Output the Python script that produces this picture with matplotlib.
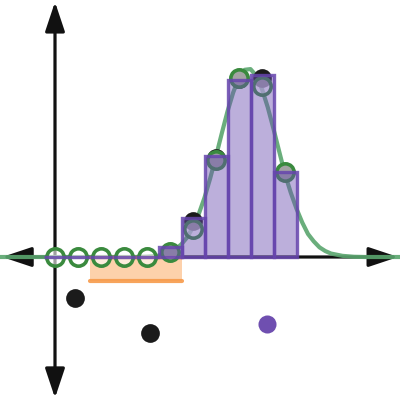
import matplotlib
matplotlib.use("Agg")
import matplotlib.pyplot as plt
from matplotlib.patches import Rectangle

# ---- data ----
bar_x = [0, 1, 2, 3, 4, 5, 6, 7, 8, 9, 10]
bar_heights = [0, 0, 0, 0, 0, 0.45, 1.7, 4.4, 7.7, 7.9, 3.7]

circle_x = [0, 1, 2, 3, 4, 5, 6, 7, 8, 9, 10]
circle_y = [0, 0, 0, 0, 0, 0.2, 1.2, 4.2, 7.8, 7.45, 3.7]

dot_x = [5, 6, 7, 8, 9, 10, 0.87, 4.13]
dot_y = [0.2, 1.57, 4.3, 7.75, 7.8, 3.7, -1.78, -3.3]

purple_pt_x = [9.2]
purple_pt_y = [-2.9]

rect_x0, rect_x1 = 1.5, 5.5
rect_y0, rect_y1 = -1.05, 0.0

curve_x = [-2.4, 3.5, 4.0, 4.5, 5.0, 5.25, 5.5, 5.75, 6.0, 6.25, 6.5, 6.75,
           7.0, 7.25, 7.5, 7.75, 8.0, 8.25, 8.5, 8.75, 9.0, 9.25, 9.5, 9.75,
           10.0, 10.25, 10.5, 10.75, 11.0, 11.25, 11.5, 11.75, 12.0, 12.5,
           13.0, 13.5, 15.0]
curve_y = [0.0, 0.0, 0.02, 0.06, 0.2, 0.34, 0.56, 0.86, 1.3, 1.87, 2.58, 3.43,
           4.38, 5.37, 6.33, 7.16, 7.8, 8.14, 8.17, 7.88, 7.3, 6.51, 5.57, 4.58,
           3.6, 2.8, 2.1, 1.5, 1.0, 0.68, 0.42, 0.26, 0.15, 0.05,
           0.01, 0.0, 0.0]

# ---- figure ----
fig = plt.figure(figsize=(4, 4), dpi=100)
ax = fig.add_axes([0, 0, 1, 1])
ax.set_xlim(-55 / 23, 345 / 23)
ax.set_ylim(-143 / 23, 257 / 23)
ax.axis("off")

# axes with arrows
arrow_style = "<|-|>,head_length=0.9,head_width=0.3"
ax.annotate("", xy=(14.92, 0), xytext=(-2.3, 0),
            arrowprops=dict(arrowstyle=arrow_style, lw=2.3, color="#111111",
                            mutation_scale=20, shrinkA=0, shrinkB=0), zorder=1)
ax.annotate("", xy=(0, 11.09), xytext=(0, -6.13),
            arrowprops=dict(arrowstyle=arrow_style, lw=2.3, color="#111111",
                            mutation_scale=20, shrinkA=0, shrinkB=0), zorder=1)

# orange rectangle
ax.add_patch(Rectangle((rect_x0, rect_y0), rect_x1 - rect_x0, rect_y1 - rect_y0,
                       facecolor="#fdc99c", edgecolor="none", alpha=0.85, zorder=2))
ax.plot([rect_x0, rect_x1], [rect_y0, rect_y0], color="#f79a4a", lw=3,
        solid_capstyle="round", zorder=2.1, alpha=0.9)

# green curve
ax.plot(curve_x, curve_y, color="#5aa56e", lw=3.0, alpha=0.9, zorder=3,
        solid_capstyle="round")

# black dots
ax.plot(dot_x, dot_y, "o", color="#1b1b1b", ms=13.5, mew=0, zorder=4)
ax.plot(purple_pt_x, purple_pt_y, "o", color="#6f4fb0", ms=13, mew=0, zorder=4)

# orange top edge
ax.plot([rect_x0, rect_x1], [rect_y1, rect_y1], color="#f0883a", lw=2.5,
        solid_capstyle="round", zorder=4.5, alpha=0.8)

# green open circles
ax.plot(circle_x, circle_y, "o", ms=12.5, mfc=(1, 1, 1, 0.6),
        mec="#3a8a3e", mew=2.6, zorder=5)

# purple bars
ax.bar(bar_x, bar_heights, width=1.0, color=(0.42, 0.31, 0.69, 0.45),
       edgecolor=(0.40, 0.27, 0.68, 0.85), linewidth=2.4, zorder=6)

fig.savefig("out.png", dpi=100)
